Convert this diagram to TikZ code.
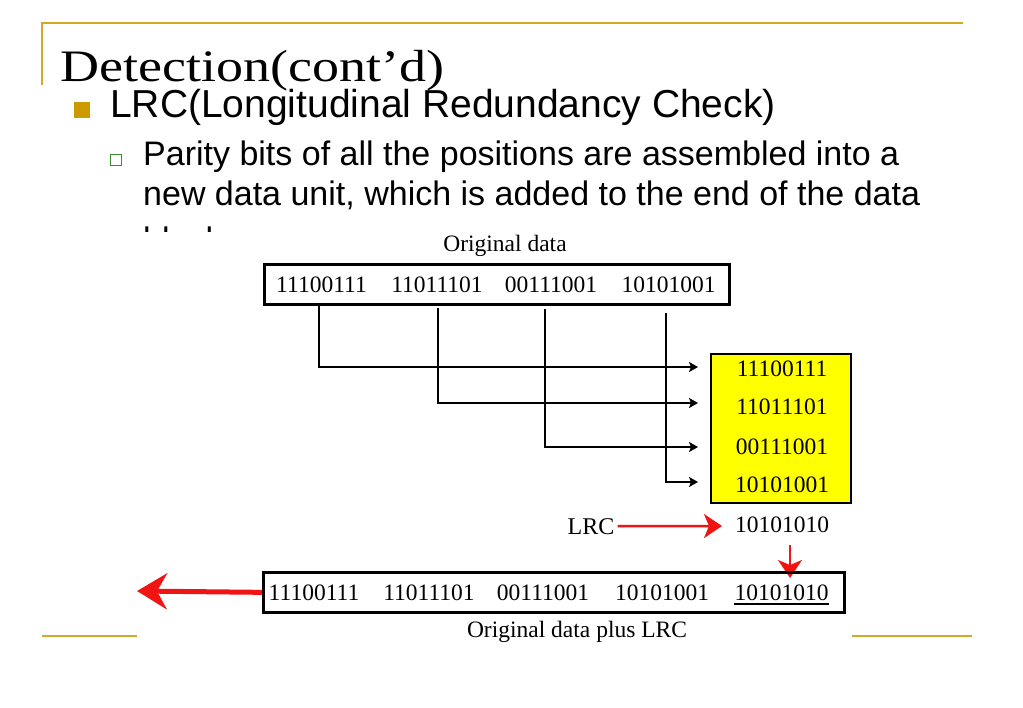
\documentclass[tikz,border=0pt]{standalone}
\usepackage{graphicx}
\usepackage{fontspec}
\newfontfamily\arialf{Liberation Sans}
\newfontfamily\timesf{Liberation Serif}
\usetikzlibrary{arrows.meta}
\definecolor{gold}{RGB}{214,168,42}
\definecolor{bulgold}{RGB}{204,153,0}
\definecolor{bulgreen}{RGB}{60,140,50}
\definecolor{rred}{RGB}{240,20,20}
\definecolor{yel}{RGB}{255,255,0}
\begin{document}
\begin{tikzpicture}[x=1pt,y=-1pt,
  goldline/.style={draw=gold,line width=2pt},
  numtxt/.style={inner sep=0pt,anchor=base,font=\timesf\fontsize{23.5}{28}\selectfont},
  frame/.style={draw=black,line width=2.7pt,inner sep=0pt},
  conn/.style={draw=black,line width=2.2pt,-{Stealth[length=9pt,width=10pt,inset=2pt]}},
  lrcarrow/.style={draw=rred,line width=2.5pt,-{Stealth[length=18pt,width=24pt,inset=5pt,fill=rred]}},
  bigarrow/.style={draw=rred,line width=5pt,-{Stealth[length=30pt,width=36pt,inset=10pt,fill=rred]}},
  bodytxt/.style={inner sep=0pt,anchor=base west,font=\arialf\fontsize{34}{40}\selectfont}
]
\useasboundingbox (0,0) rectangle (1023,708);
\fill[white] (0,0) rectangle (1023,708);

% slide frame lines
\coordinate (tl) at (42,23);
\coordinate (tr) at (963,23);
\coordinate (lv) at (42,85);
\draw[goldline] (lv) -- (tl) -- (tr);
\coordinate (bl1) at (42,636);
\coordinate (bl2) at (137,636);
\draw[goldline] (bl1) -- (bl2);
\coordinate (br1) at (852,636);
\coordinate (br2) at (972,636);
\draw[goldline] (br1) -- (br2);

% title and bullets
\node[anchor=base west,inner sep=0pt] (title) at (60,82)
  {\timesf\fontsize{45}{50}\selectfont\scalebox{1.2}[1]{Detection(cont’d)}};
\node[fill=bulgold,minimum size=16pt,inner sep=0pt] (bul1) at (82,110) {};
\node[anchor=base west,inner sep=0pt,font=\arialf\fontsize{39}{45}\selectfont] (lrcline) at (110,118)
  {LRC(Longitudinal Redundancy Check)};
\node[draw=bulgreen,line width=1.8pt,minimum size=11pt,inner sep=0pt] (bul2) at (116,160) {};
\node[bodytxt] (p1) at (143,166) {Parity bits of all the positions are assembled into a};
\node[bodytxt] (p2) at (143,206) {new data unit, which is added to the end of the data};
\begin{scope}
  \clip (100,200) rectangle (400,232);
  \node[bodytxt] (p3) at (143,252) {block.};
\end{scope}

% original data box
\node[numtxt] (cap1) at (505,252) {Original data};
\node[frame,minimum width=465pt,minimum height=40pt,anchor=north west] (topbox) at (263,263) {};
\node[numtxt] (n1) at (321.5,293) {11100111};
\node[numtxt] (n2) at (437,293) {11011101};
\node[numtxt] (n3) at (551,293) {00111001};
\node[numtxt] (n4) at (668.5,293) {10101001};

% yellow box
\node[draw=black,fill=yel,line width=2pt,minimum width=140pt,minimum height=149pt,anchor=north west,inner sep=0pt] (ybox) at (710,353) {};
\node[numtxt] (y1) at (782,377) {11100111};
\node[numtxt] (y2) at (782,415) {11011101};
\node[numtxt] (y3) at (782,454) {00111001};
\node[numtxt] (y4) at (782,492) {10101001};

% connectors
\coordinate (s1) at (319,303);
\coordinate (s2) at (438,308);
\coordinate (s3) at (545,309);
\coordinate (s4) at (666,313);
\coordinate (e1) at (698,367);
\coordinate (e2) at (698,403);
\coordinate (e3) at (698,447);
\coordinate (e4) at (698,482);
\draw[conn] (s1) |- (e1);
\draw[conn] (s2) |- (e2);
\draw[conn] (s3) |- (e3);
\draw[conn] (s4) |- (e4);

% LRC
\node[numtxt,font=\timesf\fontsize{24}{28}\selectfont] (lrc) at (591,534) {LRC};
\node[numtxt] (lrcv) at (782,532) {10101010};
\coordinate (lrctip) at (722,526);
\draw[lrcarrow] ([xshift=3pt]lrc.east) -- (lrctip);
\coordinate (dstart) at (790,545);
\coordinate (dtip) at (790,578);
\draw[lrcarrow] (dstart) -- (dtip);

% bottom box
\node[frame,minimum width=581pt,minimum height=40pt,anchor=north west] (botbox) at (262,571) {};
\node[numtxt] (b1) at (314,600) {11100111};
\node[numtxt] (b2) at (429,600) {11011101};
\node[numtxt] (b3) at (543,600) {00111001};
\node[numtxt] (b4) at (662,600) {10101001};
\node[numtxt] (b5) at (781.5,600) {10101010};
\draw[line width=1.8pt] ([yshift=-4pt]b5.base west) -- ([yshift=-4pt]b5.base east);
\node[numtxt] (cap2) at (577,637) {Original data plus LRC};
\coordinate (bigtip) at (137,591);
\draw[bigarrow] (botbox.west) -- (bigtip);
\end{tikzpicture}
\end{document}
